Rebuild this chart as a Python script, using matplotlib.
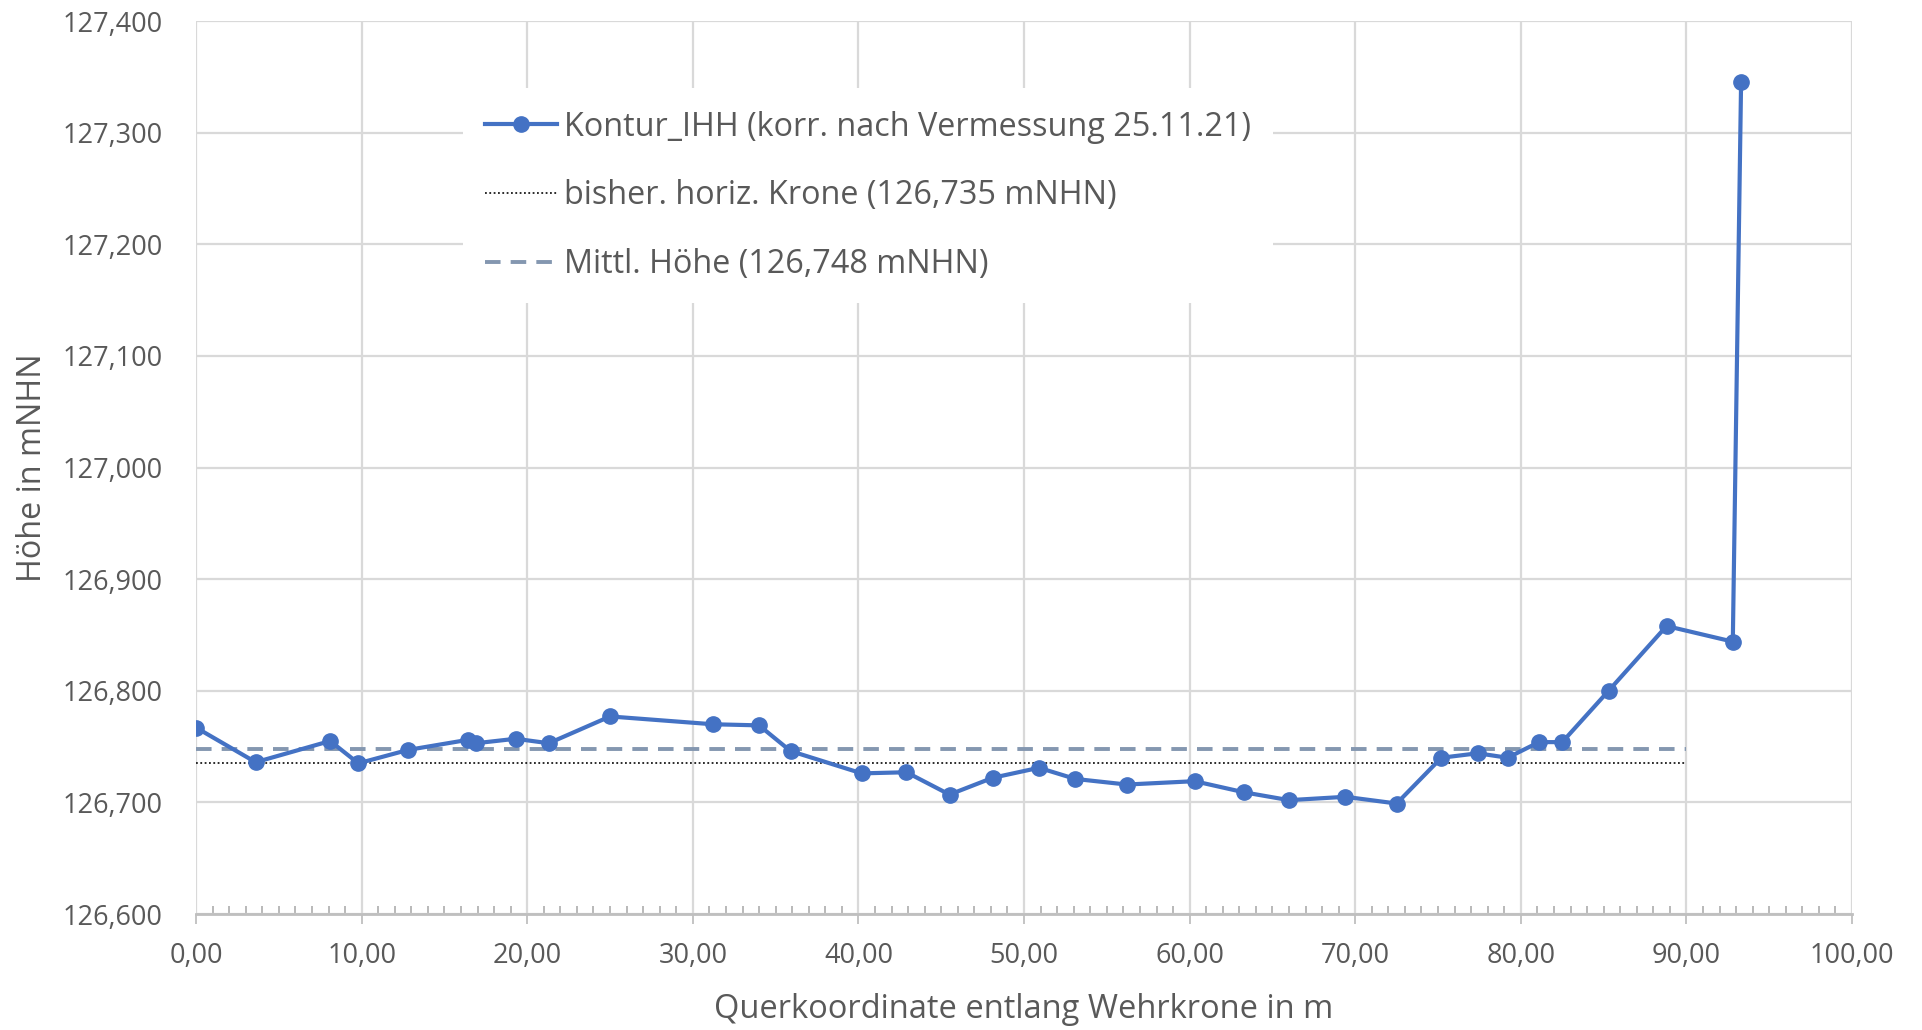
import matplotlib
matplotlib.use("Agg")
import matplotlib.pyplot as plt
from matplotlib.ticker import FuncFormatter, MultipleLocator

plt.rcParams['font.family'] = ['Open Sans', 'DejaVu Sans']

# Data
x_pos = [0.0, 3.6, 8.1, 9.8, 12.8, 16.4, 16.9, 19.3, 21.3, 25.0, 31.2, 34.0, 35.9,
         40.2, 42.9, 45.5, 48.1, 50.9, 53.1, 56.2, 60.3, 63.3, 66.0, 69.4, 72.5,
         75.2, 77.4, 79.2, 81.1, 82.5, 85.3, 88.8, 92.8, 93.3]
hoehe = [126.767, 126.736, 126.755, 126.735, 126.747, 126.756, 126.753, 126.757,
         126.753, 126.777, 126.770, 126.769, 126.746, 126.726, 126.727, 126.707,
         126.722, 126.731, 126.721, 126.716, 126.719, 126.709, 126.702, 126.705,
         126.699, 126.740, 126.744, 126.740, 126.754, 126.754, 126.800, 126.858,
         126.844, 127.345]
ref_x = [0.0, 90.0]
krone = 126.735
mittel = 126.748

lbl_kontur = "Kontur_IHH (korr. nach Vermessung 25.11.21)"
lbl_krone = "bisher. horiz. Krone (126,735 mNHN)"
lbl_mittel = "Mittl. Höhe (126,748 mNHN)"
xlabel = "Querkoordinate entlang Wehrkrone in m"
ylabel = "Höhe in mNHN"

txt = '#595959'
grid = '#D9D9D9'

fig = plt.figure(figsize=(19.22, 10.30), dpi=100)
ax = fig.add_axes([0.102, 0.1126, 0.8616, 0.867])

l1, = ax.plot(x_pos, hoehe, color='#4472C4', lw=3.0, marker='o', ms=11,
              label=lbl_kontur, zorder=4)
l2, = ax.plot(ref_x, [krone, krone], color='#1a1a1a', lw=1.3, ls=(0, (1.0, 1.4)),
              label=lbl_krone, zorder=3)
l3, = ax.plot(ref_x, [mittel, mittel], color='#8497B0', lw=2.8, ls=(0, (4.0, 2.6)),
              label=lbl_mittel, zorder=3)

ax.set_xlim(0, 100)
ax.set_ylim(126.6, 127.4)
ax.xaxis.set_major_locator(MultipleLocator(10))
ax.xaxis.set_minor_locator(MultipleLocator(1))
ax.yaxis.set_major_locator(MultipleLocator(0.1))
ax.xaxis.set_major_formatter(FuncFormatter(lambda v, p: f"{v:.2f}".replace('.', ',')))
ax.yaxis.set_major_formatter(FuncFormatter(lambda v, p: f"{v:.3f}".replace('.', ',')))

ax.grid(True, which='major', color=grid, lw=1.6, zorder=0)
ax.set_axisbelow(True)
for s in ['top', 'right', 'left']:
    ax.spines[s].set_visible(False)
ax.spines['bottom'].set_color('#BFBFBF')
ax.spines['bottom'].set_linewidth(2.0)

ax.tick_params(axis='x', which='major', direction='out', length=7, width=1.3,
               color='#BFBFBF', labelsize=19.5, labelcolor=txt, pad=13)
ax.tick_params(axis='x', which='minor', direction='in', length=6, width=1.1,
               color='#A6A6A6')
ax.tick_params(axis='y', which='major', length=0, labelsize=19.5, labelcolor=txt, pad=24)

ax.set_xlabel(xlabel, fontsize=23.5, color=txt, labelpad=17)
ax.set_ylabel(ylabel, fontsize=23.3, color=txt, labelpad=10)

leg = ax.legend(handles=[l1, l2, l3], loc='upper left', bbox_to_anchor=(0.161, 0.925),
                borderaxespad=0, fontsize=23.3, frameon=True, facecolor='white',
                edgecolor='none', framealpha=1, fancybox=False, handlelength=2.2,
                handletextpad=0.22, labelspacing=1.1, borderpad=0.7)
for t in leg.get_texts():
    t.set_color(txt)

fig.savefig('out.png', dpi=100, facecolor='white')
